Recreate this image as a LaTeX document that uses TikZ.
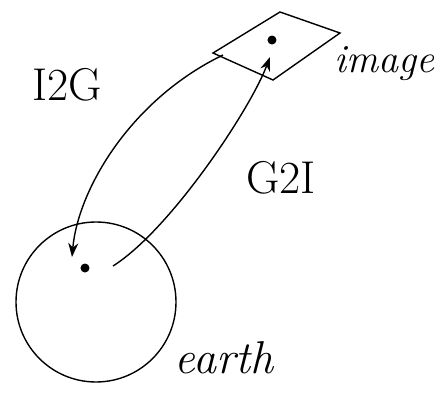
\documentclass[tikz,border=0pt]{standalone}
\usetikzlibrary{arrows.meta}

\begin{document}
\begin{tikzpicture}[x=0.5pt,y=-0.5pt,line width=0.7pt,
    dot/.style={circle,fill,inner sep=0pt,minimum size=4.5pt},
    maplabel/.style={font=\fontsize{23}{26}\selectfont},
    placelabel/.style={font=\fontsize{23}{26}\selectfont\itshape}]
  \useasboundingbox (0,0) rectangle (441,402);

  % earth
  \node[circle,draw,inner sep=0pt,minimum size=80pt] (earth) at (96,302) {};
  \node[dot] (earthdot) at (85,268) {};
  \node[placelabel] (earthlabel) at (224,358) {earth};

  % image plane
  \coordinate (imgleft) at (213,53);
  \coordinate (imgtop) at (280,12);
  \coordinate (imgright) at (340,33);
  \coordinate (imgbottom) at (273,80);
  \draw (imgleft) -- (imgtop) -- (imgright) -- (imgbottom) -- cycle;
  \node[dot] (imagedot) at (272,40) {};
  \node[placelabel,font=\fontsize{20}{24}\selectfont\itshape] (imagelabel) at (385,64) {image};

  % mappings
  \coordinate (i2gstart) at (223,55);
  \coordinate (i2gend) at (72,257);
  \draw[-{Stealth[length=7pt,width=5pt]}] (i2gstart) .. controls (130,100) and (78,190) .. (i2gend);
  \node[maplabel] (i2g) at (67,85) {I2G};

  \coordinate (g2istart) at (113,266);
  \coordinate (g2iend) at (270,57);
  \draw[-{Stealth[length=7pt,width=5pt]}] (g2istart) .. controls (170,230) and (250,110) .. (g2iend);
  \node[maplabel] (g2i) at (281,178) {G2I};
\end{tikzpicture}
\end{document}
